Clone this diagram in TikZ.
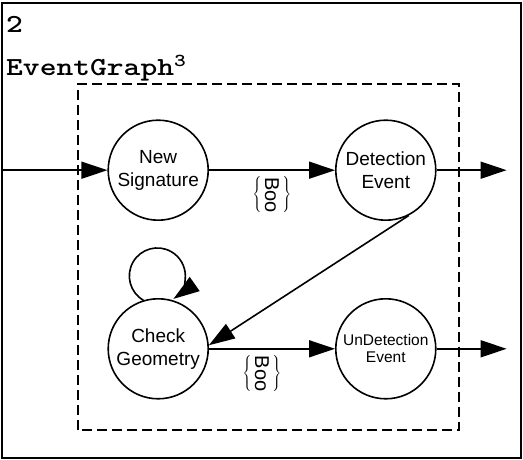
\documentclass[tikz,border=0pt]{standalone}
\usepackage{fontspec}
\setsansfont{Liberation Sans}
\usepackage{graphicx}
\usetikzlibrary{arrows.meta}

\newcommand{\boolabel}{$\left\{\,\vcenter{\hbox{\rotatebox{-90}{Boo}}}\,\right\}$}

\begin{document}
\begin{tikzpicture}[x=1pt, y=1pt,
  state/.style={draw, circle, line width=1.6pt, minimum size=100pt, inner sep=0pt,
    align=center, font=\sffamily\fontsize{19}{23}\selectfont},
  arr/.style={line width=1.6pt, -{Triangle[length=26pt, width=17pt]}},
  boo/.style={inner sep=0pt, font=\sffamily\fontsize{20}{24}\selectfont},
  head/.style={anchor=base west, inner sep=0pt, font=\ttfamily\bfseries\fontsize{26}{30}\selectfont}]
\useasboundingbox (0,0) rectangle (523,460);
\draw[line width=2pt] (2,2) rectangle (521,457);
\node[head] (num) at (6,427) {\scalebox{1.23}[1]{2}};
\node[head] (title) at (6,384) {\scalebox{1.23}[1]{EventGraph\textsuperscript{3}}};
% the event graph
\draw[line width=1.5pt, dash pattern=on 10pt off 5pt] (78,30) rectangle (459,376);
\matrix (m) [column sep = 126pt, row sep = 77pt] at (272,200.5) {
\node[state](new){New\\Signature}; & \node[state](det){Detection\\Event}; \\
\node[state](check){Check\\Geometry}; & \node[state, font=\sffamily\fontsize{15.5}{17}\selectfont](undet){UnDetection\\Event}; \\
};
\coordinate (src) at ([xshift=-106pt]new.west);
\coordinate (sink1) at ([xshift=70pt]det.east);
\coordinate (sink2) at ([xshift=70pt]undet.east);
\draw[arr] (src) -- (new);
\draw[arr] (new) -- node[boo, below=6pt]{\boolabel} (det);
\draw[arr] (det) -- (sink1);
\draw[arr] (det.297) -- (check.4);
\draw[arr] (check.107) arc[start angle=240, end angle=-55, radius=28];
\draw[arr] (check) -- node[boo, below=6pt, pos=0.42]{\boolabel} (undet);
\draw[arr] (undet) -- (sink2);
\end{tikzpicture}
\end{document}
